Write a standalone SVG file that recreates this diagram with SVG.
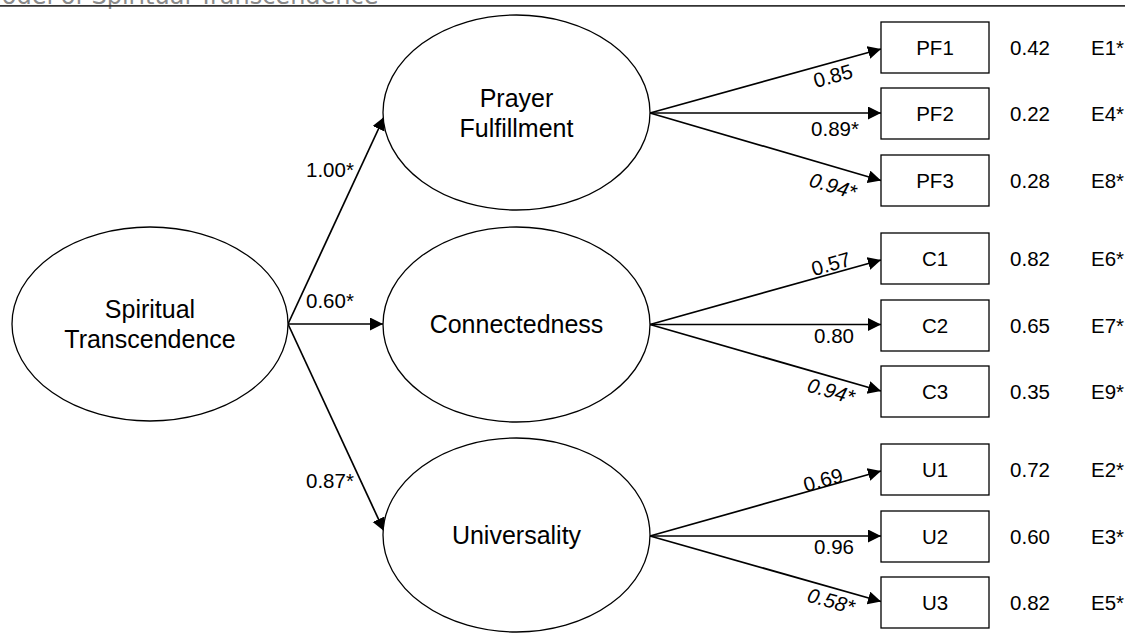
<svg xmlns="http://www.w3.org/2000/svg" width="1125" height="633" viewBox="0 0 1125 633">
  <style>
    .latent { fill: #ffffff; stroke: #000000; stroke-width: 1.3; }
    .obs { fill: #ffffff; stroke: #000000; stroke-width: 1.3; }
    .big { font-family: "Liberation Sans", Arial, sans-serif; font-size: 25px; fill: #000000; text-anchor: middle; }
    .lbl { font-family: "Liberation Sans", Arial, sans-serif; font-size: 20.5px; fill: #000000; }
    .mid { text-anchor: middle; }
    .it { font-style: italic; }
    .path { stroke: #000000; stroke-width: 1.7; fill: none; marker-end: url(#arrow); }
    .header { font-family: "DejaVu Sans", Verdana, sans-serif; font-size: 24px; fill: #8a8a8a; }
  </style>
  <defs>
    <marker id="arrow" markerUnits="userSpaceOnUse" markerWidth="14" markerHeight="14" refX="13" refY="6.5" orient="auto">
      <path d="M0,0 L13,6.5 L0,13 z" fill="#000000"/>
    </marker>
  </defs>

  <rect x="0" y="0" width="1125" height="633" fill="#ffffff"/>

  <!-- title strip -->
  <g id="title">
    <text class="header" x="-19" y="3.5">Model of Spiritual Transcendence</text>
    <line x1="0" y1="5.8" x2="1125" y2="5.8" stroke="#333333" stroke-width="1.8"/>
  </g>

  <!-- connectors -->
  <g id="connectors">
    <line class="path" x1="288" y1="324" x2="384" y2="117"/>
    <line class="path" x1="288" y1="324" x2="383" y2="324"/>
    <line class="path" x1="288" y1="324" x2="384" y2="531"/>

    <line class="path" x1="650" y1="113" x2="881" y2="49"/>
    <line class="path" x1="650" y1="113" x2="881" y2="113"/>
    <line class="path" x1="650" y1="113" x2="881" y2="180.5"/>

    <line class="path" x1="650" y1="324.5" x2="881" y2="260"/>
    <line class="path" x1="650" y1="324.5" x2="881" y2="324.5"/>
    <line class="path" x1="650" y1="324.5" x2="881" y2="391"/>

    <line class="path" x1="650" y1="536" x2="881" y2="471"/>
    <line class="path" x1="650" y1="536" x2="881" y2="536"/>
    <line class="path" x1="650" y1="536" x2="881" y2="601.5"/>

    <!-- path coefficients -->
    <text class="lbl" x="306" y="177">1.00*</text>
    <text class="lbl" x="306" y="308">0.60*</text>
    <text class="lbl" x="306" y="488">0.87*</text>

    <text class="lbl mid" transform="translate(833,76) rotate(-15.5)" y="7">0.85</text>
    <text class="lbl mid" x="835" y="136">0.89*</text>
    <text class="lbl mid it" transform="translate(833,186) rotate(16.3)" y="7">0.94*</text>

    <text class="lbl mid" transform="translate(831,264) rotate(-15.7)" y="7">0.57</text>
    <text class="lbl mid" x="834" y="343">0.80</text>
    <text class="lbl mid it" transform="translate(831,391) rotate(16)" y="7">0.94*</text>

    <text class="lbl mid" transform="translate(823,480) rotate(-15.8)" y="7">0.69</text>
    <text class="lbl mid" x="834" y="554">0.96</text>
    <text class="lbl mid it" transform="translate(831,601) rotate(16)" y="7">0.58*</text>
  </g>

  <!-- latent factors -->
  <g id="spiritual-transcendence">
    <ellipse class="latent" cx="150" cy="324" rx="138" ry="97"/>
    <text class="big" x="150" y="318">Spiritual</text>
    <text class="big" x="150" y="348">Transcendence</text>
  </g>
  <g id="prayer-fulfillment">
    <ellipse class="latent" cx="516.5" cy="112.5" rx="133.5" ry="97.5"/>
    <text class="big" x="516.5" y="107">Prayer</text>
    <text class="big" x="516.5" y="137">Fulfillment</text>
  </g>
  <g id="connectedness">
    <ellipse class="latent" cx="516.5" cy="324.5" rx="133.5" ry="97.5"/>
    <text class="big" x="516.5" y="333">Connectedness</text>
  </g>
  <g id="universality">
    <ellipse class="latent" cx="516.5" cy="535" rx="133.5" ry="97"/>
    <text class="big" x="516.5" y="544">Universality</text>
  </g>

  <!-- observed items with residuals -->
  <g id="PF1">
    <rect class="obs" x="881" y="22" width="108" height="51"/>
    <text class="lbl mid" x="935" y="55">PF1</text>
    <text class="lbl mid" x="1030" y="55">0.42</text>
    <text class="lbl" x="1091" y="55">E1*</text>
  </g>
  <g id="PF2">
    <rect class="obs" x="881" y="88" width="108" height="51"/>
    <text class="lbl mid" x="935" y="121">PF2</text>
    <text class="lbl mid" x="1030" y="121">0.22</text>
    <text class="lbl" x="1091" y="121">E4*</text>
  </g>
  <g id="PF3">
    <rect class="obs" x="881" y="155" width="108" height="51"/>
    <text class="lbl mid" x="935" y="188">PF3</text>
    <text class="lbl mid" x="1030" y="188">0.28</text>
    <text class="lbl" x="1091" y="188">E8*</text>
  </g>
  <g id="C1">
    <rect class="obs" x="881" y="233" width="108" height="51"/>
    <text class="lbl mid" x="935" y="266">C1</text>
    <text class="lbl mid" x="1030" y="266">0.82</text>
    <text class="lbl" x="1091" y="266">E6*</text>
  </g>
  <g id="C2">
    <rect class="obs" x="881" y="300" width="108" height="51"/>
    <text class="lbl mid" x="935" y="333">C2</text>
    <text class="lbl mid" x="1030" y="333">0.65</text>
    <text class="lbl" x="1091" y="333">E7*</text>
  </g>
  <g id="C3">
    <rect class="obs" x="881" y="366" width="108" height="51"/>
    <text class="lbl mid" x="935" y="399">C3</text>
    <text class="lbl mid" x="1030" y="399">0.35</text>
    <text class="lbl" x="1091" y="399">E9*</text>
  </g>
  <g id="U1">
    <rect class="obs" x="881" y="444" width="108" height="51"/>
    <text class="lbl mid" x="935" y="477">U1</text>
    <text class="lbl mid" x="1030" y="477">0.72</text>
    <text class="lbl" x="1091" y="477">E2*</text>
  </g>
  <g id="U2">
    <rect class="obs" x="881" y="511" width="108" height="51"/>
    <text class="lbl mid" x="935" y="544">U2</text>
    <text class="lbl mid" x="1030" y="544">0.60</text>
    <text class="lbl" x="1091" y="544">E3*</text>
  </g>
  <g id="U3">
    <rect class="obs" x="881" y="577" width="108" height="51"/>
    <text class="lbl mid" x="935" y="610">U3</text>
    <text class="lbl mid" x="1030" y="610">0.82</text>
    <text class="lbl" x="1091" y="610">E5*</text>
  </g>
</svg>
